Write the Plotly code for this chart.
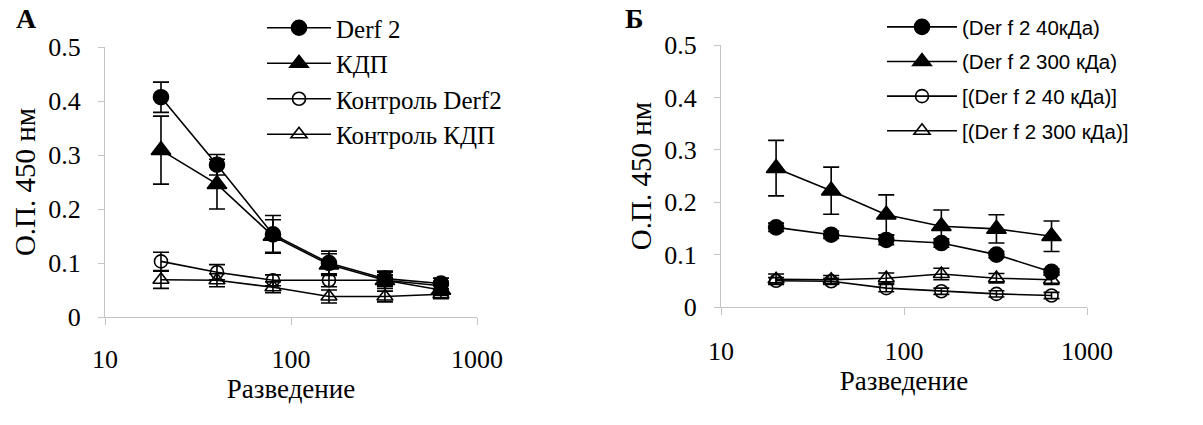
import plotly.graph_objects as go

# Dilution steps (shared by both panels)
dilution = [20, 40, 80, 160, 320, 640]

# Panel A: optical density at 450 nm
derf2 = [0.407, 0.282, 0.153, 0.100, 0.071, 0.062]
derf2_err = [0.028, 0.019, 0.035, 0.022, 0.014, 0.010]
kdp = [0.309, 0.246, 0.150, 0.097, 0.068, 0.050]
kdp_err = [0.063, 0.046, 0.030, 0.020, 0.015, 0.010]
ctrl_derf2 = [0.103, 0.083, 0.068, 0.068, 0.068, 0.058]
ctrl_derf2_err = [0.017, 0.014, 0.010, 0.012, 0.010, 0.008]
ctrl_kdp = [0.069, 0.068, 0.055, 0.038, 0.038, 0.042]
ctrl_kdp_err = [0.016, 0.012, 0.010, 0.012, 0.010, 0.008]

# Panel Б: optical density at 450 nm
der40 = [0.152, 0.138, 0.128, 0.122, 0.100, 0.067]
der40_err = [0.008, 0.007, 0.009, 0.008, 0.006, 0.006]
der300 = [0.265, 0.222, 0.176, 0.154, 0.149, 0.135]
der300_err = [0.053, 0.045, 0.038, 0.031, 0.027, 0.029]
ctrl40 = [0.050, 0.049, 0.036, 0.030, 0.025, 0.022]
ctrl40_err = [0.006, 0.006, 0.007, 0.006, 0.006, 0.006]
ctrl300 = [0.053, 0.052, 0.055, 0.063, 0.055, 0.052]
ctrl300_err = [0.010, 0.008, 0.010, 0.011, 0.009, 0.009]

names_a = ["Derf 2", "КДП", "Контроль Derf2", "Контроль КДП"]
names_b = ["(Der f 2 40кДа)", "(Der f 2 300 кДа)", "[(Der f 2 40 кДа)]", "[(Der f 2 300 кДа)]"]

x_ticks = [10, 100, 1000]
x_ticktext = ["10", "100", "1000"]
y_ticks = [0, 0.1, 0.2, 0.3, 0.4, 0.5]
y_ticktext = ["0", "0.1", "0.2", "0.3", "0.4", "0.5"]

SERIF = "Liberation Serif"
SANS = "Liberation Sans"
AXIS_GREY = "#c4c4c4"

symbols = ["circle", "triangle-up", "circle-open", "triangle-up-open"]
sizes = [15, 17, 13, 14]

fig = go.Figure()


def add_series(xaxis, yaxis, legend, names, values, errors, group_prefix):
    for i, (name, y, e) in enumerate(zip(names, values, errors)):
        fig.add_trace(go.Scatter(
            x=dilution, y=y, name=name, mode="lines+markers",
            xaxis=xaxis, yaxis=yaxis, legend=legend,
            legendgroup=f"{group_prefix}{i}",
            line=dict(color="black", width=1.6),
            marker=dict(symbol=symbols[i], size=sizes[i], color="black",
                        line=dict(color="black", width=1.6)),
            error_y=dict(type="data", array=e, visible=True,
                         color="black", thickness=1.6, width=8),
        ))


add_series("x", "y", "legend", names_a,
           [derf2, kdp, ctrl_derf2, ctrl_kdp],
           [derf2_err, kdp_err, ctrl_derf2_err, ctrl_kdp_err], "a")
add_series("x2", "y2", "legend2", names_b,
           [der40, der300, ctrl40, ctrl300],
           [der40_err, der300_err, ctrl40_err, ctrl300_err], "b")

W, H = 1203, 425


def xaxis_cfg(x0, x1, standoff, title_standoff):
    return dict(
        type="log", range=[1, 3], domain=[x0 / W, x1 / W],
        tickvals=x_ticks, ticktext=x_ticktext,
        showgrid=False, zeroline=False, showline=True,
        linecolor=AXIS_GREY, linewidth=1,
        ticks="outside", ticklen=7, tickcolor=AXIS_GREY,
        ticklabelstandoff=standoff,
        tickfont=dict(family=SERIF, size=26, color="black"),
        title=dict(text="Разведение", font=dict(family=SERIF, size=27, color="black"),
                   standoff=title_standoff),
    )


def yaxis_cfg(anchor, y_top, y_bottom):
    return dict(
        range=[0, 0.5], domain=[1 - y_bottom / H, 1 - y_top / H], anchor=anchor,
        tickvals=y_ticks, ticktext=y_ticktext,
        showgrid=False, zeroline=False, showline=True,
        linecolor=AXIS_GREY, linewidth=1,
        ticks="outside", ticklen=6, tickcolor=AXIS_GREY,
        ticklabelstandoff=12,
        tickfont=dict(family=SERIF, size=26, color="black"),
        title=dict(text="О.П. 450 нм", font=dict(family=SERIF, size=29, color="black"),
                   standoff=4),
    )


fig.update_layout(
    width=W, height=H,
    margin=dict(l=0, r=0, t=0, b=0, autoexpand=False),
    paper_bgcolor="white", plot_bgcolor="white",
    xaxis=dict(anchor="y", **xaxis_cfg(105, 477, 12, 3)),
    yaxis=yaxis_cfg("x", 47, 317),
    xaxis2=dict(anchor="y2", **xaxis_cfg(721, 1087, 14, 5)),
    yaxis2=yaxis_cfg("x2", 45, 307),
    legend=dict(
        x=262 / W, y=1 - 5 / H, xanchor="left", yanchor="top",
        bgcolor="rgba(0,0,0,0)", traceorder="grouped", tracegroupgap=0,
        itemwidth=64,
        font=dict(family=SERIF, size=25, color="black"),
    ),
    legend2=dict(
        x=882 / W, y=1 - 7 / H, xanchor="left", yanchor="top",
        bgcolor="rgba(0,0,0,0)", traceorder="grouped", tracegroupgap=5,
        itemwidth=70,
        font=dict(family=SANS, size=20.5, color="black"),
    ),
    annotations=[
        dict(text="<b>А</b>", x=26 / W, y=1 - 18 / H, xref="paper", yref="paper",
             showarrow=False, xanchor="center", yanchor="middle",
             font=dict(family=SERIF, size=28, color="black")),
        dict(text="<b>Б</b>", x=634 / W, y=1 - 18 / H, xref="paper", yref="paper",
             showarrow=False, xanchor="center", yanchor="middle",
             font=dict(family=SERIF, size=28, color="black")),
    ],
)

fig.write_html("out.html")
